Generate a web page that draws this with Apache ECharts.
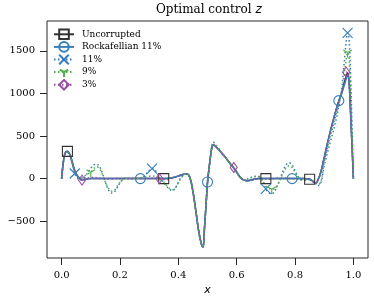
<!DOCTYPE html>
<html><head><meta charset="utf-8">
<script src="https://cdn.jsdelivr.net/npm/echarts@6/dist/echarts.min.js"></script>
<style>html,body{margin:0;padding:0;background:#fff}#c{width:374px;height:302px}</style>
</head><body><div id="c"></div>
<script>
const xs = [
  0, 0.005, 0.01, 0.015, 0.02, 0.03, 0.04, 0.045, 0.05, 0.06,
  0.07, 0.08, 0.09, 0.10, 0.11, 0.12, 0.13, 0.14, 0.15, 0.16,
  0.17, 0.18, 0.19, 0.20, 0.21, 0.22, 0.24, 0.26, 0.27, 0.28,
  0.29, 0.30, 0.31, 0.32, 0.33, 0.335, 0.34, 0.35, 0.36, 0.37,
  0.38, 0.39, 0.40, 0.41, 0.42, 0.43, 0.44, 0.45, 0.46, 0.47,
  0.48, 0.485, 0.49, 0.495, 0.50, 0.505, 0.51, 0.515, 0.52, 0.53,
  0.54, 0.55, 0.56, 0.57, 0.58, 0.59, 0.60, 0.61, 0.62, 0.63,
  0.64, 0.65, 0.66, 0.67, 0.68, 0.69, 0.70, 0.71, 0.72, 0.73,
  0.74, 0.75, 0.76, 0.77, 0.78, 0.79, 0.80, 0.81, 0.82, 0.83,
  0.84, 0.85, 0.86, 0.87, 0.88, 0.89, 0.90, 0.91, 0.92, 0.93,
  0.94, 0.95, 0.96, 0.97, 0.975, 0.98, 0.985, 0.99, 0.995, 1.0
];
const uncorrupted = [
  0, 170, 280, 315, 320, 270, 150, 95, 55, 10,
  -15, -10, -3, 0, 0, 0, 0, 0, 0, 0,
  0, 0, 0, 0, 0, 0, 0, 0, 0, 0,
  0, 0, 0, 0, 0, 0, 0, 0, 2, 5,
  10, 20, 30, 42, 52, 55, 10, -150, -380, -620,
  -780, -800, -560, -310, -50, 110, 250, 360, 395, 370,
  335, 295, 255, 210, 165, 125, 75, 25, -8, -22,
  -25, -18, -8, -2, 0, 0, 0, 0, 0, 0,
  0, 0, 0, 0, 0, 0, 0, 0, 0, 0,
  -2, -8, -30, -58, -5, 100, 250, 400, 545, 675,
  800, 910, 1010, 1140, 1200, 1240, 1150, 800, 400, 0
];
const rockafellian = [
  0, 165, 275, 312, 318, 268, 150, 95, 55, 10,
  -12, -8, -2, 0, 0, 0, 0, 0, 0, 0,
  0, 0, 0, 0, 0, 0, 0, 0, 0, 0,
  0, 0, 0, 0, 0, 0, 0, 0, 2, 5,
  10, 20, 30, 42, 52, 55, 10, -150, -380, -620,
  -780, -800, -560, -310, -40, 110, 250, 360, 395, 370,
  335, 295, 255, 210, 165, 125, 75, 25, -8, -22,
  -25, -18, -8, -2, 0, 0, 0, 0, 0, 0,
  0, 0, 0, 0, 0, 0, 0, 0, 0, 0,
  -2, -8, -30, -58, -5, 95, 245, 395, 540, 670,
  795, 915, 1000, 1110, 1165, 1215, 1130, 790, 400, 0
];
const corrupt11 = [
  0, 160, 270, 305, 310, 250, 130, 60, 25, -10,
  -10, 20, 70, 120, 160, 170, 140, 60, -40, -130,
  -170, -160, -110, -50, -10, 5, 0, 0, 5, 20,
  55, 95, 118, 100, 50, 20, -10, -45, -90, -125,
  -140, -110, -40, 15, 45, 55, 10, -150, -380, -620,
  -780, -805, -560, -310, -40, 120, 270, 390, 430, 390,
  345, 300, 255, 210, 165, 120, 70, 20, -10, -15,
  0, 15, 25, 30, 15, -30, -120, -165, -180, -150,
  -80, 10, 100, 165, 185, 160, 95, 25, -15, -25,
  -15, -10, -25, -55, -80, -30, 150, 290, 420, 540,
  680, 850, 1060, 1420, 1600, 1710, 1640, 1250, 650, 0
];
const corrupt9 = [
  0, 160, 265, 305, 312, 258, 140, 80, 40, 0,
  10, 35, 55, 75, 115, 140, 115, 45, -40, -110,
  -145, -140, -95, -45, -10, 5, 5, 5, 10, 15,
  22, 28, 30, 25, 10, 0, -15, -40, -80, -115,
  -130, -110, -50, 10, 45, 55, 10, -150, -380, -620,
  -780, -805, -560, -310, -40, 120, 265, 385, 425, 385,
  340, 298, 255, 210, 165, 122, 72, 22, -8, -15,
  -5, 10, 20, 25, 10, -30, -90, -115, -125, -120,
  -75, -5, 70, 130, 150, 130, 75, 20, -10, -20,
  -15, -10, -25, -50, -70, -20, 190, 345, 490, 610,
  740, 870, 1010, 1260, 1390, 1480, 1420, 1080, 560, 0
];
const corrupt3 = [
  0, 168, 278, 313, 318, 268, 148, 90, 45, 0,
  -18, -10, 5, 12, 12, 8, 3, 0, -3, -5,
  -5, -3, 0, 0, 0, 0, 0, 0, 0, 0,
  0, 2, 5, 5, 2, 0, -5, -10, -12, -5,
  5, 18, 30, 42, 52, 55, 10, -150, -380, -620,
  -780, -803, -565, -315, -45, 115, 255, 365, 400, 372,
  338, 298, 258, 212, 168, 130, 80, 28, -5, -20,
  -22, -15, -5, 0, 2, 0, -5, -8, -5, 0,
  5, 8, 8, 5, 2, 0, -3, -5, -5, -3,
  -3, -8, -28, -55, -10, 90, 240, 390, 535, 670,
  790, 905, 1010, 1160, 1250, 1235, 1130, 800, 400, 0
];
const marksUncorrupted = [0.02, 0.35, 0.70, 0.85];
const marksRockafellian = [0.27, 0.50, 0.79, 0.95];
const marks11 = [0.045, 0.31, 0.70, 0.98];
const marks9 = [0.10, 0.72, 0.98];
const marks3 = [0.07, 0.335, 0.59, 0.975];
const xTicks = [0, 0.2, 0.4, 0.6, 0.8, 1.0];
const yTicks = [-500, 0, 500, 1000, 1500];
const names = ['Uncorrupted', 'Rockafellian 11%', '11%', '9%', '3%'];

const FS = 'DejaVu Serif';
function mk(name, ys, marks, color, symbol, size, dotted) {
  return {
    type: 'line', name: name,
    data: xs.map((x, i) => marks.some(m => Math.abs(m - x) < 1e-9) ? [x, ys[i]] : {value: [x, ys[i]], symbol: 'none'}),
    smooth: 0.35,
    symbol: symbol, symbolSize: size, showSymbol: true,
    lineStyle: {color: color, width: 1.5, type: dotted ? [1.5, 2.5] : 'solid'},
    itemStyle: {color: 'none', borderColor: color, borderWidth: 1.1},
    animation: false
  };
}
const chart = echarts.init(document.getElementById('c'), null, {renderer: 'canvas'});
chart.setOption({
  animation: false,
  backgroundColor: '#fff',
  title: {
    text: '{a|Optimal control }{b|z}', left: 156, top: 4, padding: 0,
    textStyle: {fontWeight: 'normal', rich: {
      a: {fontFamily: FS, fontSize: 12, color: '#000'},
      b: {fontFamily: 'DejaVu Sans', fontStyle: 'italic', fontSize: 12, color: '#000'}
    }}
  },
  legend: {
    orient: 'vertical', left: 53, top: 27, padding: 0, itemWidth: 20, itemHeight: 12, itemGap: -2,
    data: names,
    textStyle: {fontFamily: FS, fontSize: 9, color: '#000', lineHeight: 10, padding: [0, 0, 0, 3]}
  },
  grid: {left: 47, right: 6, top: 21, bottom: 44, show: true, borderColor: '#262626', borderWidth: 1, backgroundColor: 'transparent'},
  xAxis: {
    type: 'value', min: -0.05, max: 1.05,
    axisLine: {show: false, onZero: false}, splitLine: {show: false},
    axisTick: {show: true, length: 7, lineStyle: {color: '#262626'}, customValues: xTicks},
    axisLabel: {customValues: xTicks, formatter: v => v.toFixed(1), margin: 12, fontFamily: FS, fontSize: 10, color: '#000'},
    name: 'x', nameLocation: 'middle', nameGap: 25,
    nameTextStyle: {fontFamily: 'DejaVu Sans', fontStyle: 'italic', fontSize: 11, color: '#000'}
  },
  yAxis: {
    type: 'value', min: -932, max: 1850,
    axisLine: {show: false, onZero: false}, splitLine: {show: false},
    axisTick: {show: true, length: 7, lineStyle: {color: '#262626'}, customValues: yTicks},
    axisLabel: {customValues: yTicks, formatter: v => v < 0 ? '\u2212' + Math.abs(v) : String(v), margin: 12, fontFamily: FS, fontSize: 10, color: '#000'}
  },
  series: [
    mk(names[0], uncorrupted, marksUncorrupted, '#333333', 'rect', 10, false),
    mk(names[1], rockafellian, marksRockafellian, '#377eb8', 'circle', 10, false),
    mk(names[2], corrupt11, marks11, '#377eb8', 'path://M0,0L10,10M10,0L0,10', 10, true),
    mk(names[3], corrupt9, marks9, '#4daf4a', 'path://M5,10L5,5L0.67,2.5M5,5L9.33,2.5M5,0M0,5M10,5', 10, true),
    mk(names[4], corrupt3, marks3, '#984ea3', 'path://M3.5,0L7,5L3.5,10L0,5Z', [7, 10], true)
  ]
});
</script></body></html>
